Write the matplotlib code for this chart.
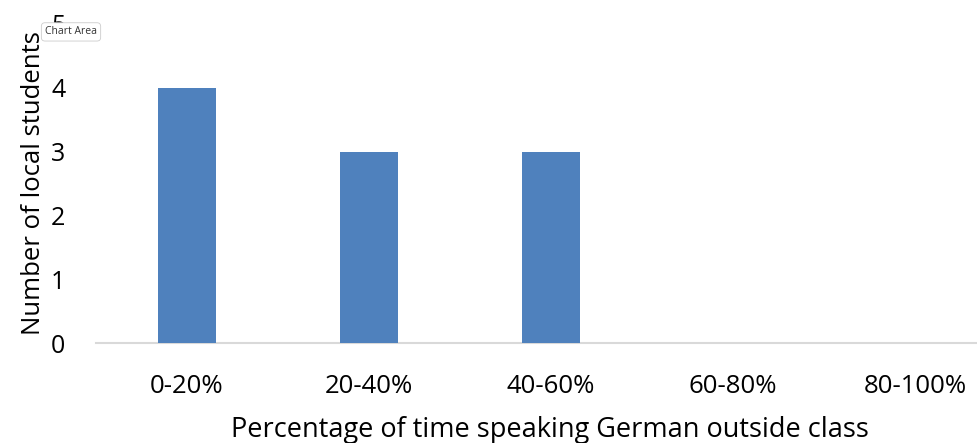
import matplotlib
matplotlib.use('Agg')
import matplotlib.pyplot as plt
import numpy as np

categories = ['0-20%', '20-40%', '40-60%', '60-80%', '80-100%']
students = [4, 3, 3, 0, 0]
yticks = [0, 1, 2, 3, 4, 5]

plt.rcParams['font.family'] = ['Open Sans', 'DejaVu Sans']

fig = plt.figure(figsize=(9.78, 4.43), dpi=100)
ax = fig.add_axes([0.0982, 0.2257, 0.9018, 0.7203])

x = np.arange(len(categories))
ax.bar(x, students, width=0.32, color='#4f81bd', zorder=3)

ax.set_xlim(-0.5, 4.346)
ax.set_ylim(0, 5)
ax.set_xticks(x)
ax.set_xticklabels(categories, fontsize=18.5)
ax.set_yticks(yticks)
ax.set_yticklabels([str(t) for t in yticks], fontsize=18)
ax.tick_params(axis='both', length=0)
ax.tick_params(axis='x', pad=22)
ax.tick_params(axis='y', pad=22)

for s in ['top', 'right', 'left']:
    ax.spines[s].set_visible(False)
ax.spines['bottom'].set_color('#d9d9d9')
ax.spines['bottom'].set_linewidth(1.5)

ax.set_xlabel('Percentage of time speaking German outside class', fontsize=19.5)
ax.xaxis.set_label_coords(0.515, -0.23)
ax.set_ylabel('Number of local students', fontsize=18.5, labelpad=4)

# tooltip left in the screenshot
fig.text(0.0726, 0.928, 'Chart Area', fontsize=7.5, color='#333333', ha='center', va='center',
         bbox=dict(boxstyle='round,pad=0.35', fc='white', ec='#cccccc', lw=0.6))

fig.savefig('out.png', dpi=100)
